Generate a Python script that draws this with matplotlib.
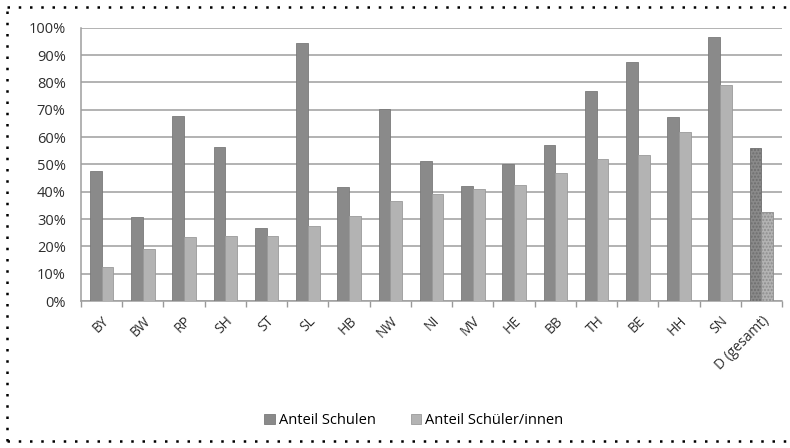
import matplotlib.pyplot as plt
import numpy as np
from matplotlib.lines import Line2D

plt.rcParams['font.family'] = ['Open Sans', 'DejaVu Sans']

# Bundeslaender
laender = ['BY', 'BW', 'RP', 'SH', 'ST', 'SL', 'HB', 'NW', 'NI', 'MV',
           'HE', 'BB', 'TH', 'BE', 'HH', 'SN', 'D (gesamt)']
# Anteil in Prozent
schulen = [47.7, 30.7, 67.7, 56.3, 26.6, 94.5, 41.6, 70.4, 51.3, 42.0,
           50.1, 57.0, 76.8, 87.6, 67.4, 96.7, 56.1]
schueler = [12.6, 18.9, 23.4, 23.7, 23.9, 27.4, 31.3, 36.5, 39.1, 41.0,
            42.3, 47.0, 52.1, 53.3, 61.7, 79.0, 32.6]

dunkel = '#8a8a8a'
hell = '#b3b3b3'

fig = plt.figure(figsize=(7.9, 4.48), dpi=100)
ax = fig.add_axes([0.1025, 0.328, 0.8875, 0.61])

x = np.arange(len(laender))
w = 0.285
b1 = ax.bar(x - w / 2, schulen, w, color=dunkel, edgecolor='#7a7a7a', linewidth=0.6, zorder=3)
b2 = ax.bar(x + w / 2, schueler, w, color=hell, edgecolor='#9a9a9a', linewidth=0.6, zorder=3)

# letzte Gruppe (gesamt) gepunktet
plt.rcParams['hatch.linewidth'] = 1.0
b1[-1].set_hatch('.....')
b1[-1].set_edgecolor('#6e6e6e')
b2[-1].set_hatch('.....')
b2[-1].set_edgecolor('#8e8e8e')

ax.set_xlim(-0.5, len(laender) - 0.5)
ax.set_ylim(0, 100)
ax.set_yticks(range(0, 101, 10))
ax.set_yticklabels([str(v) + '%' for v in range(0, 101, 10)], fontsize=10.5, color='#2e2e2e')
ax.yaxis.grid(True, color='#9e9e9e', linewidth=1.1, zorder=0)
ax.tick_params(axis='y', length=0, pad=11)

ax.set_xticks(x)
ax.set_xticklabels(laender, rotation=45, ha='right', rotation_mode='anchor',
                   fontsize=10, color='#2e2e2e')
ax.set_xticks(np.arange(-0.5, len(laender)), minor=True)
ax.tick_params(axis='x', which='major', length=0, pad=9)
ax.tick_params(axis='x', which='minor', length=4, color='#999999', width=1)

for s in ['top', 'right']:
    ax.spines[s].set_visible(False)
ax.spines['left'].set_color('#9e9e9e')
ax.spines['bottom'].set_color('#9e9e9e')
ax.spines['left'].set_linewidth(1.1)
ax.spines['bottom'].set_linewidth(1.1)

fig.legend([b1, b2], ['Anteil Schulen', 'Anteil Schüler/innen'], loc='center',
           bbox_to_anchor=(0.524, 0.062), ncol=2, frameon=False, fontsize=10.5,
           handlelength=0.7, handleheight=0.7, handletextpad=0.3, columnspacing=2.4)

# gepunkteter Rahmen
rahmen = dict(color='black', linestyle=(0, (1, 3.5)), linewidth=1.8, transform=fig.transFigure)
fig.add_artist(Line2D([0.009, 1.0], [0.985, 0.985], **rahmen))
fig.add_artist(Line2D([0.009, 0.009], [0.015, 0.985], **rahmen))
fig.add_artist(Line2D([0.009, 1.0], [0.015, 0.015], **rahmen))

fig.savefig('out.png', dpi=100)
